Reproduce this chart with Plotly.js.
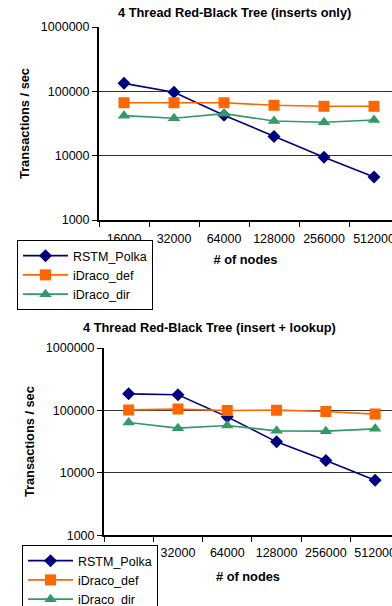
<!DOCTYPE html>
<html>
<head>
<meta charset="utf-8">
<script src="https://cdn.plot.ly/plotly-3.0.1.min.js"></script>
<style>
html, body { margin: 0; padding: 0; background: #fff; overflow: hidden; width: 392px; height: 606px; }
#chart { width: 392px; height: 640px; }
</style>
</head>
<body>
<div id="chart"></div>
<script>
const categories = ['16000', '32000', '64000', '128000', '256000', '512000'];
const seriesNames = ['RSTM_Polka', 'iDraco_def', 'iDraco_dir'];
const insertsPolka = [133000, 97000, 42400, 19800, 9480, 4650];
const insertsDef = [66500, 66500, 66500, 60700, 58500, 58500];
const insertsDir = [41900, 38100, 45000, 34600, 33100, 35900];
const lookupPolka = [184500, 178000, 78900, 31400, 15800, 7640];
const lookupDef = [102000, 105000, 100000, 101000, 96000, 87300];
const lookupDir = [64200, 52000, 57500, 47100, 46600, 50700];
const yTickVals = [1000, 10000, 100000, 1000000];
const yTickText = ['1000', '10000', '100000', '1000000'];
const chartTitles = ['4 Thread Red-Black Tree (inserts only)', '4 Thread Red-Black Tree (insert + lookup)'];
const xTitle = '# of nodes';
const yTitle = 'Transactions / sec';

// figure is taller than the 606px window so the bottom legend can run off the edge like the original
const W = 392, H = 640;
const FONT = '"Liberation Sans", Arial, sans-serif';
const colors = ['#000080', '#FF6600', '#339966'];
const symbols = ['diamond', 'square', 'triangle-up'];
const msizes = [10, 11, 11];

function mk(y, i, xa, ya, leg) {
  return {
    type: 'scatter', mode: 'lines+markers',
    x: categories, y: y, name: seriesNames[i],
    xaxis: xa, yaxis: ya, legend: leg, showlegend: true,
    line: {color: colors[i], width: 1.6},
    marker: {color: colors[i], symbol: symbols[i], size: msizes[i]}
  };
}

const data = [
  mk(insertsPolka, 0, 'x', 'y', 'legend'),
  mk(insertsDef, 1, 'x', 'y', 'legend'),
  mk(insertsDir, 2, 'x', 'y', 'legend'),
  mk(lookupPolka, 0, 'x2', 'y2', 'legend2'),
  mk(lookupDef, 1, 'x2', 'y2', 'legend2'),
  mk(lookupDir, 2, 'x2', 'y2', 'legend2')
];

function px(v) { return v / W; }
function py(v) { return 1 - v / H; }

function xaxis(left, spacing, anchor, standoff, tstand) {
  return {
    type: 'category', domain: [px(left), 1], anchor: anchor,
    range: [-0.5, -0.5 + (W - left) / spacing],
    tickson: 'boundaries', ticks: 'outside', ticklen: 5, tickcolor: '#000', tickwidth: 1,
    tickangle: 0,
    showline: true, linecolor: '#000', linewidth: 1.5,
    showgrid: false, ticklabelstandoff: standoff,
    tickfont: {family: FONT, size: 12.5, color: '#000'},
    title: {text: xTitle, font: {family: FONT, size: 12.8, color: '#000', weight: 'bold'}, standoff: tstand}
  };
}
function yaxis(top, bottom, anchor) {
  return {
    type: 'log', domain: [py(bottom), py(top)], anchor: anchor,
    range: [3, 6], tickvals: yTickVals, ticktext: yTickText,
    ticks: 'outside', ticklen: 5, tickcolor: '#000',
    showline: true, linecolor: '#000', linewidth: 2,
    showgrid: true, gridcolor: '#333', gridwidth: 1,
    tickfont: {family: FONT, size: 12.5, color: '#000'},
    title: {text: yTitle, font: {family: FONT, size: 12.8, color: '#000', weight: 'bold'}, standoff: 8}
  };
}

const legendBase = {
  bgcolor: '#fff', bordercolor: '#000', borderwidth: 1,
  xanchor: 'left', yanchor: 'top', itemwidth: 45,
  tracegroupgap: 0,
  font: {family: FONT, size: 12.5, color: '#000'}
};

const layout = {
  width: W, height: H,
  margin: {l: 0, r: 0, t: 0, b: 0},
  paper_bgcolor: '#fff', plot_bgcolor: '#fff',
  showlegend: true,
  xaxis: xaxis(99, 50, 'y', 6, 10),
  yaxis: yaxis(27, 220, 'x'),
  xaxis2: xaxis(104, 49.3, 'y2', 5, 13),
  yaxis2: yaxis(348, 535.3, 'x2'),
  legend: Object.assign({}, legendBase, {x: px(17), y: py(240)}),
  legend2: Object.assign({}, legendBase, {x: px(22), y: py(545)}),
  annotations: [
    {text: chartTitles[0], xref: 'paper', yref: 'paper', x: px(234), y: py(13), showarrow: false,
     xanchor: 'center', yanchor: 'middle', font: {family: FONT, size: 12.8, color: '#000', weight: 'bold'}},
    {text: chartTitles[1], xref: 'paper', yref: 'paper', x: px(209), y: py(327), showarrow: false,
     xanchor: 'center', yanchor: 'middle', font: {family: FONT, size: 12.8, color: '#000', weight: 'bold'}}
  ]
};

Plotly.newPlot('chart', data, layout, {displayModeBar: false, staticPlot: true});
</script>
</body>
</html>
